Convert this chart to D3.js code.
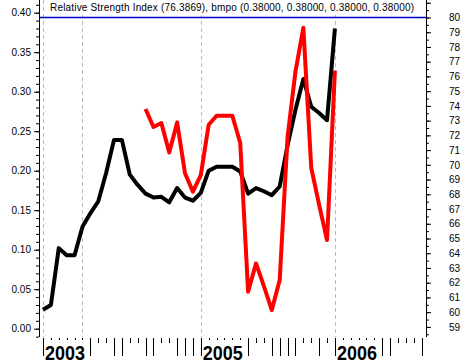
<!DOCTYPE html>
<html>
<head>
<meta charset="utf-8">
<script src="https://cdn.jsdelivr.net/npm/d3@7"></script>
<style>
  body { margin: 0; background: #fff; }
  svg { display: block; }
  .axis text { font-family: "Liberation Sans", Arial, sans-serif; font-size: 10px; fill: #000; }
</style>
</head>
<body>
<div class="rsiChart"></div>
<script>
// bmpo (left axis), one value per period
var bmpo = [0.024, 0.030, 0.102, 0.093, 0.093, 0.129, 0.146, 0.161, 0.197, 0.239,
            0.239, 0.195, 0.182, 0.171, 0.166, 0.167, 0.160, 0.178, 0.166, 0.162,
            0.172, 0.200, 0.205, 0.205, 0.205, 0.199, 0.171, 0.178, 0.174, 0.169,
            0.180, 0.232, 0.277, 0.316, 0.281, 0.273, 0.264, 0.380];
// RSI (right axis), starts at period 13
var rsi = [null, null, null, null, null, null, null, null, null, null, null, null, null,
           73.79, 72.57, 72.84, 70.84, 72.88, 69.43, 68.18, 69.30, 72.72, 73.33, 73.33,
           73.33, 71.48, 61.38, 63.31, 61.77, 60.14, 62.18, 71.90, 76.33, 79.30, 69.80,
           67.28, 64.90, 76.39];
// period index where each year starts
var years = ["2003", "2004", "2005", "2006"];
var yearStart = [0, 5, 20, 37];
// period ticks on the bottom axis: 1 = long, 0 = short
var tickKind = [1,1,1,1,1, 1,1,0,0,1, 1,0,0,1,1, 0,0,1,1,1,
                1,1,1,1,1, 1,1,0,0,1, 1,1,1,0,0, 1,0,1,1,1,
                1,1,1,1,1, 0,0,0,1];
var leftTicks = [0, 0.05, 0.10, 0.15, 0.20, 0.25, 0.30, 0.35, 0.40];
var rightTicks = d3.range(59, 82);
var overbought = 80;
var title = "Relative Strength Index (76.3869), bmpo (0.38000, 0.38000, 0.38000, 0.38000)";

var width = 464, height = 364;
var leftX = 39, rightX = 426, axisBottom = 337;

var xScale = d3.scaleLinear()
  .domain([0, tickKind.length - 1])
  .range([43, 421.7]);

var yLeft = d3.scaleLinear()
  .domain([0, 0.40])
  .range([328.7, 12.7]);

var yRight = d3.scaleLinear()
  .domain([59, 80])
  .range([326.9, 17.5]);

var svg = d3.select(".rsiChart").append("svg")
  .attr("width", width)
  .attr("height", height);

// dashed year gridlines
svg.selectAll(".grid")
  .data(yearStart)
  .enter().append("line")
  .attr("class", "grid")
  .attr("x1", function(d) { return Math.round(xScale(d)) + 0.5; })
  .attr("x2", function(d) { return Math.round(xScale(d)) + 0.5; })
  .attr("y1", 0)
  .attr("y2", axisBottom)
  .attr("stroke", "#bbbbbb")
  .attr("stroke-dasharray", "4,3");

// title box covers the gridlines behind the text
svg.append("rect")
  .attr("x", 47).attr("y", 0)
  .attr("width", 372).attr("height", 15)
  .attr("fill", "#fff");

svg.append("text")
  .attr("x", 50)
  .attr("y", 11)
  .attr("textLength", 364)
  .attr("lengthAdjust", "spacing")
  .style("font-family", "Liberation Sans, Arial, sans-serif")
  .style("font-size", "10px")
  .text(title);

// overbought level
svg.append("line")
  .attr("x1", leftX).attr("x2", rightX)
  .attr("y1", yRight(overbought)).attr("y2", yRight(overbought))
  .attr("stroke", "#0000cc")
  .attr("stroke-width", 1.5);

// left axis
var gLeft = svg.append("g")
  .attr("class", "axis")
  .attr("transform", "translate(" + leftX + ",0)");
gLeft.call(d3.axisLeft(yLeft)
  .tickValues(d3.range(-1, 43).map(function(d) { return d / 100; }))
  .tickSize(3).tickFormat(""));
gLeft.call(function(g) { g.selectAll(".domain").remove(); });
gLeft.append("g").call(d3.axisLeft(yLeft)
  .tickValues(leftTicks).tickSize(5).tickPadding(3)
  .tickFormat(d3.format(".2f")))
  .call(function(g) { g.select(".domain").remove(); });
gLeft.append("line")
  .attr("x1", 0.5).attr("x2", 0.5)
  .attr("y1", 0).attr("y2", axisBottom)
  .attr("stroke", "#000");

// right axis
var gRight = svg.append("g")
  .attr("class", "axis")
  .attr("transform", "translate(" + rightX + ",0)");
gRight.call(d3.axisRight(yRight)
  .tickValues(d3.range(58.5, 81.5, 0.5))
  .tickSize(3).tickFormat(""))
  .call(function(g) { g.select(".domain").remove(); });
gRight.append("g").call(d3.axisRight(yRight)
  .tickValues(rightTicks).tickSize(5).tickPadding(18)
  .tickFormat(function(d) { return d <= 80 ? d : ""; }))
  .call(function(g) { g.select(".domain").remove(); });
gRight.append("line")
  .attr("x1", 0.5).attr("x2", 0.5)
  .attr("y1", 0).attr("y2", axisBottom)
  .attr("stroke", "#000");

// bottom period ticks
svg.selectAll(".ptick")
  .data(tickKind)
  .enter().append("line")
  .attr("class", "ptick")
  .attr("x1", function(d, i) { return Math.round(xScale(i)) + 0.5; })
  .attr("x2", function(d, i) { return Math.round(xScale(i)) + 0.5; })
  .attr("y1", 338)
  .attr("y2", function(d) { return d ? 356 : 343; })
  .attr("stroke", "#000");

// year labels, skipped where they would run into the previous one
var lastEnd = -1;
years.forEach(function(y, k) {
  var x0 = xScale(yearStart[k]) + 2;
  if (x0 < lastEnd) return;
  svg.append("rect")
    .attr("x", x0).attr("y", 340)
    .attr("width", 41).attr("height", 24)
    .attr("fill", "#fff");
  svg.append("text")
    .attr("x", x0)
    .attr("y", 360)
    .attr("textLength", 40)
    .attr("lengthAdjust", "spacingAndGlyphs")
    .style("font-family", "Liberation Sans, Arial, sans-serif")
    .style("font-size", "20px")
    .style("font-weight", "bold")
    .text(y);
  lastEnd = x0 + 42;
});

// bmpo line
var bmpoLine = d3.line()
  .x(function(d, i) { return xScale(i); })
  .y(function(d) { return yLeft(d); });

svg.append("path")
  .datum(bmpo)
  .attr("fill", "none")
  .attr("stroke", "#000")
  .attr("stroke-width", 4)
  .attr("stroke-linejoin", "round")
  .attr("d", bmpoLine);

// RSI line
var rsiLine = d3.line()
  .defined(function(d) { return d != null; })
  .x(function(d, i) { return xScale(i); })
  .y(function(d) { return yRight(d); });

svg.append("path")
  .datum(rsi)
  .attr("fill", "none")
  .attr("stroke", "#ff0000")
  .attr("stroke-width", 4)
  .attr("stroke-linejoin", "round")
  .attr("d", rsiLine);
</script>
</body>
</html>
